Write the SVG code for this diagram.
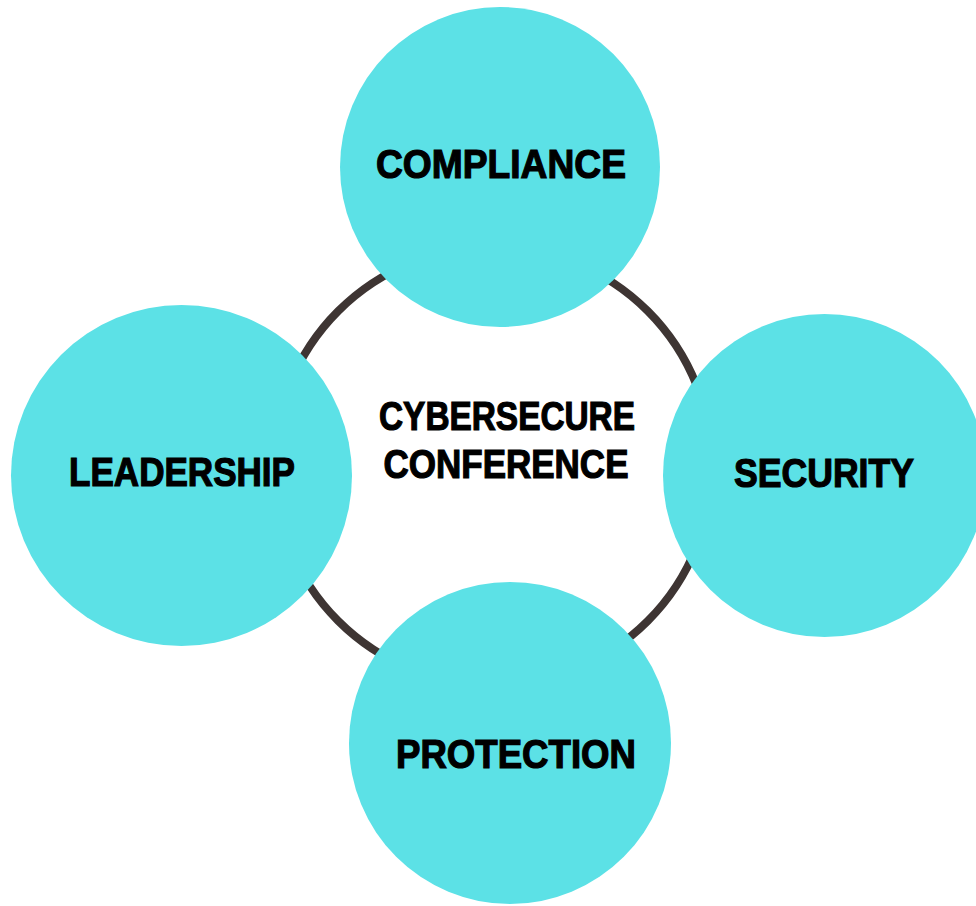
<svg xmlns="http://www.w3.org/2000/svg" width="976" height="906" viewBox="0 0 976 906">
<style>
.node{fill:#5ce1e6}
.lbl{font-family:"Liberation Sans",Arial,sans-serif;font-weight:bold;font-size:40px;fill:#000;stroke:#000;stroke-width:1.2;text-anchor:middle}
.ring{fill:none;stroke:#3e3533;stroke-width:8}
</style>
<rect width="976" height="906" fill="#fff"/>
<g id="connectors">
<circle class="ring" cx="493" cy="466" r="219"/>
</g>
<g id="compliance">
<circle class="node" cx="500" cy="167" r="160"/>
<text class="lbl" x="501" y="178" textLength="250" lengthAdjust="spacingAndGlyphs">COMPLIANCE</text>
</g>
<g id="leadership">
<circle class="node" cx="181.5" cy="475.5" r="170.5"/>
<text class="lbl" x="182" y="486" textLength="226" lengthAdjust="spacingAndGlyphs">LEADERSHIP</text>
</g>
<g id="security">
<circle class="node" cx="824.5" cy="475.5" r="161.5"/>
<text class="lbl" x="824" y="487" textLength="180" lengthAdjust="spacingAndGlyphs">SECURITY</text>
</g>
<g id="protection">
<circle class="node" cx="510" cy="743" r="161"/>
<text class="lbl" x="516" y="768" textLength="240" lengthAdjust="spacingAndGlyphs">PROTECTION</text>
</g>
<g id="center">
<text class="lbl" x="507" y="430" textLength="256" lengthAdjust="spacingAndGlyphs">CYBERSECURE</text>
<text class="lbl" x="506" y="478" textLength="245" lengthAdjust="spacingAndGlyphs">CONFERENCE</text>
</g>
</svg>
